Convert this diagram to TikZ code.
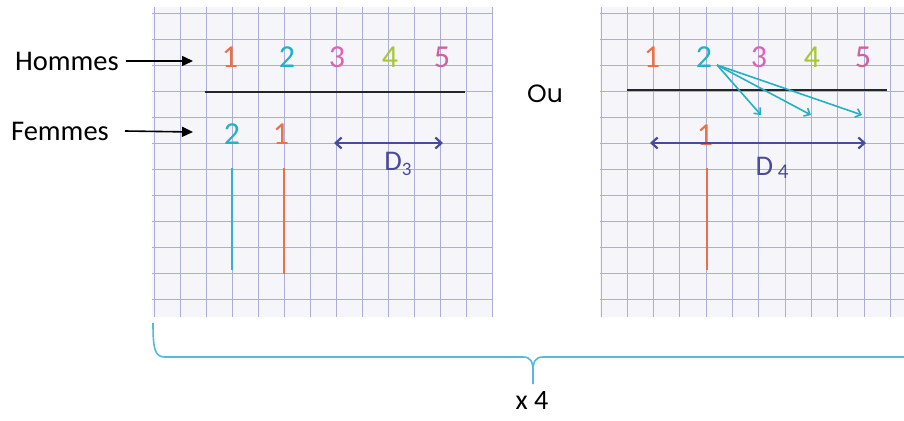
\documentclass[tikz,border=0pt]{standalone}
\usepackage{fontspec}
\setmainfont{Carlito}
\newfontfamily\roundfont{Poppins}
\usetikzlibrary{arrows.meta}
\definecolor{paper}{HTML}{F5F5FA}
\definecolor{gridc}{HTML}{ADADDA}
\definecolor{cred}{HTML}{E8704A}
\definecolor{cteal}{HTML}{22B2C2}
\definecolor{cpink}{HTML}{E062B4}
\definecolor{cgreen}{HTML}{A8C832}
\definecolor{cmag}{HTML}{D0609E}
\definecolor{cpurp}{HTML}{4A4A9C}
\definecolor{cblue}{HTML}{33B0D6}
\definecolor{cbrace}{HTML}{55B8DE}
\tikzset{
  panel/.style={fill=paper,draw=none},
  gridline/.style={draw=gridc,line width=0.9pt},
  num/.style={font=\fontsize{32}{32}\selectfont,inner sep=0pt,anchor=center},
  lab/.style={font=\fontsize{28.5}{28.5}\selectfont,inner sep=0pt,anchor=center},
  blackarrow/.style={draw=black,line width=1.6pt,-{Triangle[length=11pt,width=10pt]}},
  darrow/.style={draw=cpurp,line width=2.2pt,{Straight Barb[length=6pt,width=11pt]}-{Straight Barb[length=6pt,width=11pt]}},
  tarrow/.style={draw=cteal,line width=1.6pt,-{Straight Barb[length=5pt,width=9pt]}},
  baseline/.style={draw=black!85,line width=1.8pt},
  vbar/.style={line width=2pt},
}
\begin{document}
\begin{tikzpicture}[x=1pt,y=-1pt]
\useasboundingbox (0,0) rectangle (904,420);
% ---------- left panel ----------
\fill[panel] (152,7) rectangle (493,317);
\foreach \i in {0,...,13} \draw[gridline] (154+26*\i,7) -- (154+26*\i,317);
\foreach \j in {0,...,11} \draw[gridline] (152,13+26*\j) -- (493,13+26*\j);
% ---------- right panel ----------
\fill[panel] (600,7) rectangle (904,317);
\foreach \i in {0,...,11} \draw[gridline] (601+26.3*\i,7) -- (601+26.3*\i,317);
\foreach \j in {0,...,11} \draw[gridline] (600,13+26*\j) -- (904,13+26*\j);

% ---------- labels left ----------
\node[lab,anchor=east] (hommes) at (119,61) {Hommes};
\node[lab,anchor=east] (femmes) at (109,131) {Femmes};
\coordinate (hend) at (193,61);
\coordinate (fend) at (193,132);
\draw[blackarrow] (hommes.east) ++(7pt,0) coordinate (hstart) -- (hend);
\draw[blackarrow] (femmes.east) ++(16pt,0) coordinate (fstart) -- (fend);

% ---------- left panel content ----------
\node[num,text=cred]   (a1) at (230,57) {1};
\node[num,text=cteal]  (a2) at (287,57) {2};
\node[num,text=cpink]  (a3) at (337,57) {3};
\node[num,text=cgreen] (a4) at (390,57) {4};
\node[num,text=cmag]   (a5) at (442,57) {5};
\coordinate (la) at (205,92);
\coordinate (lb) at (465,92);
\draw[baseline] (la) -- (lb);
\node[num,text=cteal] (f2) at (232,134) {2};
\node[num,text=cred]  (f1) at (281,134) {1};
\coordinate (d3a) at (334,143);
\coordinate (d3b) at (443,143);
\draw[darrow] (d3a) -- (d3b);
\node[lab,text=cpurp] (d3) at (398,164) {D\raisebox{-0.35ex}{\fontsize{19}{19}\selectfont 3}};
\coordinate (c1a) at (232,168);
\coordinate (c1b) at (232,270);
\draw[vbar,draw=cblue] (c1a) -- (c1b);
\coordinate (r1a) at (284,168);
\coordinate (r1b) at (284,274);
\draw[vbar,draw=cred] (r1a) -- (r1b);

% ---------- Ou ----------
\node[font=\roundfont\fontsize{25}{25}\selectfont,inner sep=0pt] (ou) at (545,94) {Ou};

% ---------- right panel content ----------
\node[num,text=cred]   (b1) at (652,57) {1};
\node[num,text=cteal]  (b2) at (704,57) {2};
\node[num,text=cpink]  (b3) at (759,57) {3};
\node[num,text=cgreen] (b4) at (812,57) {4};
\node[num,text=cmag]   (b5) at (863,57) {5};
\coordinate (ra) at (627,90);
\coordinate (rb) at (887,90);
\draw[baseline] (ra) -- (rb);
\coordinate (t0) at (717,65);
\coordinate (t3) at (761,115);
\coordinate (t4) at (811,115);
\coordinate (t5) at (862,115);
\draw[tarrow] (t0) -- (t3);
\draw[tarrow] (t0) -- (t4);
\draw[tarrow] (t0) -- (t5);
\node[num,text=cred] (g1) at (705,135) {1};
\coordinate (d4a) at (650,143);
\coordinate (d4b) at (866,143);
\draw[darrow] (d4a) -- (d4b);
\node[lab,text=cpurp] (d4) at (772,168) {D\,\raisebox{-0.25ex}{\fontsize{21}{21}\selectfont 4}};
\coordinate (r2a) at (707,168);
\coordinate (r2b) at (707,270);
\draw[vbar,draw=cred] (r2a) -- (r2b);

% ---------- brace ----------
\coordinate (bl) at (153,323);
\coordinate (bm) at (533,384);
\node[font=\fontsize{28}{28}\selectfont,inner sep=0pt,anchor=center] (x4) at (532,401) {x 4};
\draw[cbrace,line width=1.6pt]
  (bl) .. controls (153,350) and (155,357) .. (165,357)
  -- (523,357) .. controls (531,357) and (533,362) .. (533,372) -- (bm);
\draw[cbrace,line width=1.6pt]
  (533,372) .. controls (533,362) and (535,357) .. (543,357) -- (904,357);
\end{tikzpicture}
\end{document}
